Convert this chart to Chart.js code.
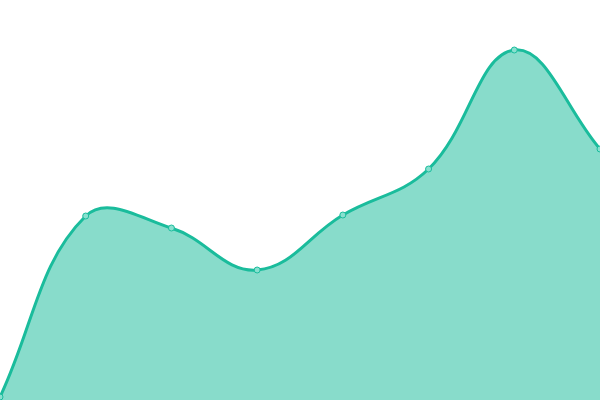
<!DOCTYPE html>
<html><head><meta charset="utf-8">
<script src="https://cdn.jsdelivr.net/npm/chart.js@4/dist/chart.umd.min.js"></script>
<style>html,body{margin:0;padding:0;background:#fff}#c{display:block}</style>
</head><body>
<div style="width:600px;height:400px"><canvas id="c"></canvas></div>
<script>
const categories = ["1","2","3","4","5","6","7","8"];
const values = [3, 184, 172, 130, 185, 231, 350, 251];
new Chart(document.getElementById('c'), {
  type: 'line',
  data: { labels: categories, datasets: [{
    data: values,
    borderColor: '#1abc9c',
    backgroundColor: 'rgba(26,188,156,0.52)',
    borderWidth: 3,
    fill: 'origin',
    tension: 0.4,
    pointRadius: 3,
    pointBackgroundColor: '#88e0cf',
    pointBorderColor: '#1abc9c',
    pointBorderWidth: 1
  }]},
  options: {
    responsive: true, maintainAspectRatio: false, animation: false,
    layout: { padding: 0, autoPadding: false },
    plugins: { legend: { display: false }, tooltip: { enabled: false } },
    scales: {
      x: { display: false },
      y: { display: false, min: 0, max: 400 }
    }
  }
});
</script>
</body></html>
